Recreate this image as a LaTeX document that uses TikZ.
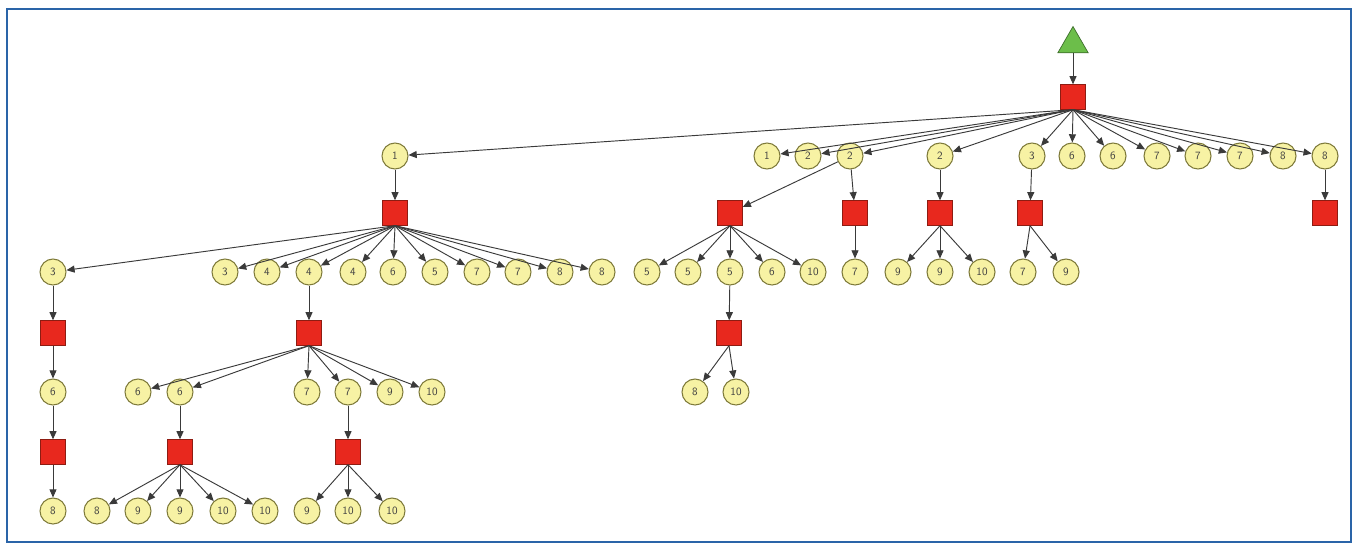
\documentclass[tikz,border=0pt]{standalone}
\usepackage{tikz}
\usetikzlibrary{shapes,arrows,arrows.meta}
\definecolor{knude-gul}{HTML}{F7F2A4}
\definecolor{knude-kant}{HTML}{7E7A3A}
\definecolor{boks-roed}{HTML}{E8281E}
\definecolor{boks-kant}{HTML}{8E1C12}
\definecolor{top-groen}{HTML}{6CBE4A}
\definecolor{top-kant}{HTML}{3E6E2C}
\definecolor{ramme-blaa}{HTML}{2A64A8}
\definecolor{pil-graa}{HTML}{3A3A3A}

\tikzset{
  circ/.style={circle,draw=knude-kant,fill=knude-gul,line width=0.9pt,minimum size=0.78cm,inner sep=0pt,text=black!75,font=\fontsize{9.5}{10}\selectfont\sffamily},
  sq/.style={rectangle,draw=boks-kant,fill=boks-roed,line width=0.6pt,minimum size=0.74cm,inner sep=0pt},
  tri/.style={regular polygon,regular polygon sides=3,draw=top-kant,fill=top-groen,line width=0.6pt,minimum size=1.05cm,inner sep=0pt},
  edge/.style={->,draw=pil-graa,line width=0.8pt}
}

\begin{document}
\begin{tikzpicture}[>={Triangle[length=7pt,width=6pt]},x=0.03cm,y=-0.03cm] \sffamily

\useasboundingbox (0,0) rectangle (1357,548);
\draw[ramme-blaa,line width=1.5pt] (7,9) rectangle (1351,542);

% top
\node[tri] (start) at (1073,44) {};
\node[sq] (root) at (1073,97) {};

% level 1
\node[circ] (a1) at (395,156) {1};
\node[circ] (b1) at (767,156) {1};
\node[circ] (b2) at (808,156) {2};
\node[circ] (b3) at (850,156) {2};
\node[circ] (b4) at (940,156) {2};
\node[circ] (b5) at (1032,156) {3};
\node[circ] (b6) at (1072,156) {6};
\node[circ] (b7) at (1113,156) {6};
\node[circ] (b8) at (1157,156) {7};
\node[circ] (b9) at (1198,156) {7};
\node[circ] (b10) at (1240,156) {7};
\node[circ] (b11) at (1283,156) {8};
\node[circ] (b12) at (1325,156) {8};

% level 2
\node[sq] (s1) at (395,213) {};
\node[sq] (s2) at (730,213) {};
\node[sq] (s3) at (855,213) {};
\node[sq] (s4) at (940,213) {};
\node[sq] (s5) at (1030,213) {};
\node[sq] (s6) at (1325,213) {};

% level 3
\node[circ] (c1) at (53,272) {3};
\node[circ] (c2) at (225,272) {3};
\node[circ] (c3) at (267,272) {4};
\node[circ] (c4) at (309,272) {4};
\node[circ] (c5) at (353,272) {4};
\node[circ] (c6) at (393,272) {6};
\node[circ] (c7) at (435,272) {5};
\node[circ] (c8) at (477,272) {7};
\node[circ] (c9) at (518,272) {7};
\node[circ] (c10) at (560,272) {8};
\node[circ] (c11) at (602,272) {8};

\node[circ] (d1) at (647,272) {5};
\node[circ] (d2) at (688,272) {5};
\node[circ] (d3) at (730,272) {5};
\node[circ] (d4) at (772,272) {6};
\node[circ] (d5) at (813,272) {10};

\node[circ] (e1) at (855,272) {7};

\node[circ] (f1) at (898,272) {9};
\node[circ] (f2) at (940,272) {9};
\node[circ] (f3) at (982,272) {10};

\node[circ] (g1) at (1023,272) {7};
\node[circ] (g2) at (1066,272) {9};

% level 4
\node[sq] (q1) at (53,333) {};
\node[sq] (q2) at (309,333) {};
\node[sq] (q3) at (729,333) {};

% level 5
\node[circ] (h1) at (53,392) {6};
\node[circ] (i1) at (138,392) {6};
\node[circ] (i2) at (180,392) {6};
\node[circ] (i3) at (307,392) {7};
\node[circ] (i4) at (348,392) {7};
\node[circ] (i5) at (390,392) {9};
\node[circ] (i6) at (432,392) {10};
\node[circ] (j1) at (695,392) {8};
\node[circ] (j2) at (736,392) {10};

% level 6
\node[sq] (t1) at (53,452) {};
\node[sq] (t2) at (180,452) {};
\node[sq] (t3) at (348,452) {};

% level 7
\node[circ] (k1) at (53,511) {8};
\node[circ] (l1) at (97,511) {8};
\node[circ] (l2) at (138,511) {9};
\node[circ] (l3) at (180,511) {9};
\node[circ] (l4) at (223,511) {10};
\node[circ] (l5) at (265,511) {10};
\node[circ] (m1) at (307,511) {9};
\node[circ] (m2) at (348,511) {10};
\node[circ] (m3) at (392,511) {10};

% connectors
\draw[edge] (start) to (root);
\foreach \n in {a1,b1,b2,b3,b4,b5,b6,b7,b8,b9,b10,b11,b12}
  \draw[edge] (root.south) to (\n);

\draw[edge] (a1) to (s1);
\draw[edge] (b3) to (s2);
\draw[edge] (b3) to (s3);
\draw[edge] (b4) to (s4);
\draw[edge] (b5) to (s5);
\draw[edge] (b12) to (s6);

\foreach \n in {c1,c2,c3,c4,c5,c6,c7,c8,c9,c10,c11}
  \draw[edge] (s1.south) to (\n);
\foreach \n in {d1,d2,d3,d4,d5}
  \draw[edge] (s2.south) to (\n);
\draw[edge] (s3) to (e1);
\foreach \n in {f1,f2,f3}
  \draw[edge] (s4.south) to (\n);
\foreach \n in {g1,g2}
  \draw[edge] (s5.south) to (\n);

\draw[edge] (c1) to (q1);
\draw[edge] (c4) to (q2);
\draw[edge] (d3) to (q3);

\draw[edge] (q1) to (h1);
\foreach \n in {i1,i2,i3,i4,i5,i6}
  \draw[edge] (q2.south) to (\n);
\foreach \n in {j1,j2}
  \draw[edge] (q3.south) to (\n);

\draw[edge] (h1) to (t1);
\draw[edge] (i2) to (t2);
\draw[edge] (i4) to (t3);

\draw[edge] (t1) to (k1);
\foreach \n in {l1,l2,l3,l4,l5}
  \draw[edge] (t2.south) to (\n);
\foreach \n in {m1,m2,m3}
  \draw[edge] (t3.south) to (\n);

\end{tikzpicture}
\end{document}
